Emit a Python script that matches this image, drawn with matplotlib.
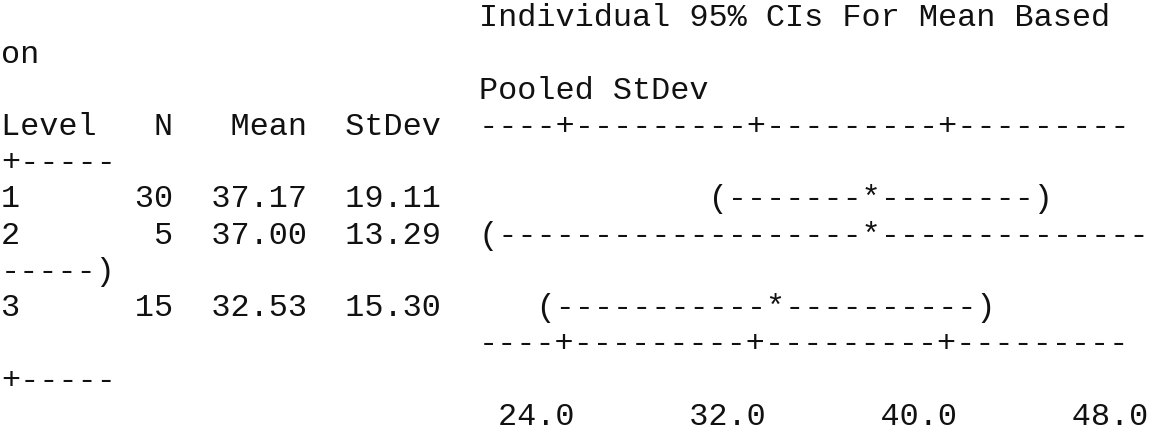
import matplotlib.pyplot as plt

# one-way ANOVA summary (Minitab style text output)
levels = ["1", "2", "3"]
n_obs = [30, 5, 15]
means = [37.17, 37.00, 32.53]
stdevs = [19.11, 13.29, 15.30]
ci_low = [30.70, 21.15, 23.38]
ci_high = [43.64, 52.85, 41.68]
ticks = [24.0, 32.0, 40.0, 48.0]
heading = "Individual 95% CIs For Mean Based on"
subheading = "Pooled StDev"

W, H = 1154, 433
CW = 19.12       # width of one character cell (px)
LH = 36.2        # line height (px)
TOP = 26.5       # baseline of first line (px)
WRAP = 60        # characters that fit on a line
PLOT_COL = 25    # column where the interval plot starts
TICK_COL = 29    # column of the first tick
STEP = (ticks[1] - ticks[0]) / 10   # value per character


def col(v):
    return TICK_COL + round((v - ticks[0]) / STEP)


def wrap(line):
    # break like a browser does: at spaces or after hyphens
    out = []
    while len(line) > WRAP:
        i = max(j for j in range(WRAP) if line[j] in "- ")
        if line[i] == " ":
            out.append(line[:i])
        else:
            out.append(line[:i + 1])
        line = line[i + 1:]
    out.append(line)
    return out


last = col(ticks[-1]) + 5
axis = "".join("+" if (c - TICK_COL) % 10 == 0 else "-" for c in range(PLOT_COL, last + 1))

lines = [" " * PLOT_COL + heading, " " * PLOT_COL + subheading]
header = f"{'Level':<5}{'N':>4}{'Mean':>7}{'StDev':>7}"
lines.append(header.ljust(PLOT_COL) + axis)

for lvl, n, m, s, lo, hi in zip(levels, n_obs, means, stdevs, ci_low, ci_high):
    chars = list(f"{lvl:<5}{n:>4}{m:>7.2f}{s:>7.2f}".ljust(col(hi) + 1))
    for c in range(col(lo) + 1, col(hi)):
        chars[c] = "-"
    chars[col(lo)] = "("
    chars[col(hi)] = ")"
    chars[col(m)] = "*"
    lines.append("".join(chars))

lines.append(" " * PLOT_COL + axis)

tick_chars = [" "] * (col(ticks[-1]) + 1)
for t in ticks:
    lab = f"{t:.1f}"
    end = col(t)
    tick_chars[end - len(lab) + 1:end + 1] = list(lab)
lines.append("".join(tick_chars))

fig = plt.figure(figsize=(W / 100, H / 100), dpi=100)
ax = fig.add_axes([0, 0, 1, 1])
ax.set_xlim(0, W)
ax.set_ylim(H, 0)
ax.axis("off")

k = 0
for line in lines:
    for part in wrap(line):
        text = part.lstrip(" ")
        x = 1 + (len(part) - len(text)) * CW
        ax.text(x, TOP + k * LH, text, va="baseline", ha="left",
                family=["Liberation Mono", "DejaVu Sans Mono"],
                fontsize=CW / 0.6 * 72 / 100, color="#111111")
        k += 1

fig.savefig("out.png", dpi=100)
